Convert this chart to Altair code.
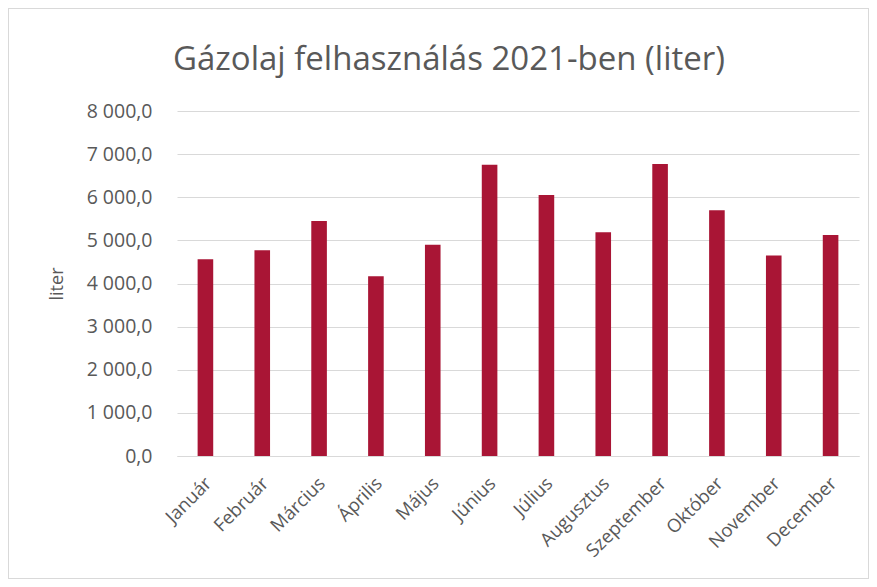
import altair as alt
import pandas as pd

chart_title = "Gázolaj felhasználás 2021-ben (liter)"
months = ["Január", "Február", "Március", "Április", "Május", "Június",
          "Július", "Augusztus", "Szeptember", "Október", "November", "December"]
liters = [4560, 4770, 5450, 4170, 4900, 6755, 6050, 5190, 6770, 5700, 4650, 5125]

df = pd.DataFrame({"honap": months, "liter": liters})

grey = "#595959"

bars = alt.Chart(df).mark_bar(color="#A91535", width={"band": 0.305}).encode(
    x=alt.X("honap:N", sort=months, title=None,
            axis=alt.Axis(labelAngle=-45, labelFontSize=18.5, labelColor=grey,
                          labelFont="Open Sans", ticks=False, domainColor="#D9D9D9",
                          labelPadding=24, labelOffset=3,
                          labelAlign="right", labelBaseline="middle")),
    y=alt.Y("liter:Q", title="liter", scale=alt.Scale(domain=[0, 8000], nice=False),
            axis=alt.Axis(values=list(range(0, 8001, 1000)), ticks=False, domain=False,
                          labelExpr="replace(replace(format(datum.value, ',.1f'), ',', ' '), '.', ',')",
                          labelFontSize=19.5, labelColor=grey, labelFont="Open Sans",
                          labelPadding=25, gridColor="#D9D9D9",
                          titleFontSize=18, titleColor=grey, titleFont="Open Sans",
                          titleFontWeight="normal", titlePadding=20)),
)

frame = alt.Chart(df).mark_rect(fill=None, stroke="#D9D9D9", strokeWidth=1).encode(
    x=alt.value(-168.5), x2=alt.value(691.5), y=alt.value(-102.5), y2=alt.value(467.5)
)

title_df = pd.DataFrame({"t": [chart_title]})
title = alt.Chart(title_df).mark_text(
    fontSize=33, font="Open Sans", color=grey, align="center", baseline="alphabetic"
).encode(text="t:N", x=alt.value(272), y=alt.value(-41))

chart = alt.layer(frame, bars, title).properties(
    width=682, height=345,
    autosize=alt.AutoSizeParams(type="none"),
    padding={"left": 169, "top": 103, "right": 10, "bottom": 123},
).configure_view(stroke=None)

chart.save("out.html", embed_options={"renderer": "svg", "actions": False})
